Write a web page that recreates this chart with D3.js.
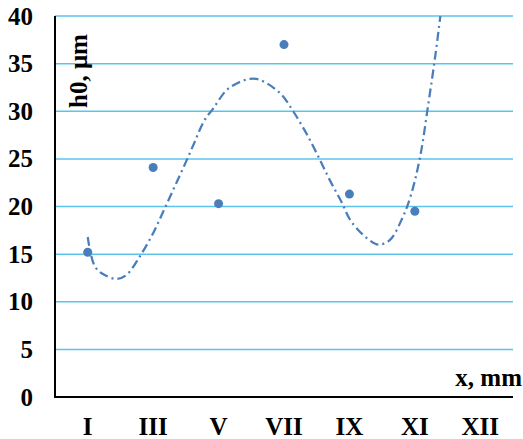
<!DOCTYPE html>
<html lang="en">
<head>
<script src="https://d3js.org/d3.v7.min.js"></script>
<style>
    body { margin: 0; background: #fff; }
    text { font-family: "Liberation Serif", "Times New Roman", serif; font-weight: bold; }
</style>
</head>
<body>
<div id="container"></div>
<script>
    // categories along x
    const categories = ["I", "III", "V", "VII", "IX", "XI", "XII"];

    // measured points (one per category, none at XII)
    const pointCats = ["I", "III", "V", "VII", "IX", "XI"];
    const pointValues = [15.2, 24.1, 20.3, 37.0, 21.3, 19.5];

    // trend line: position in category steps from "I", and value
    const trendPos = [0, 0.11, 0.26, 0.44, 0.59, 0.8, 1.0, 1.15, 1.31, 1.47, 1.63, 1.78, 1.92, 2.12, 2.3, 2.48, 2.63, 2.94, 3.14, 3.34, 3.52, 3.69, 3.87, 4.03, 4.3, 4.45, 4.62, 4.81, 4.94, 5.08, 5.2, 5.31, 5.39];
    const trendValues = [16.8, 13.7, 12.8, 12.4, 12.8, 14.8, 17.2, 19.4, 21.8, 24.2, 26.7, 29.0, 30.3, 32.2, 33.0, 33.4, 33.3, 31.9, 30.0, 27.7, 25.3, 22.9, 20.6, 18.4, 16.5, 16.0, 16.5, 18.8, 21.2, 25.2, 30.5, 35.7, 40];

    const yTicks = [0, 5, 10, 15, 20, 25, 30, 35, 40];

    const width = 523, height = 439;
    const margin = {top: 16, right: 10, bottom: 42, left: 55};
    const fontSize = "25px";

    const svg = d3.select("#container")
        .append("svg")
        .attr("width", width)
        .attr("height", height);

    // scales
    var x = d3.scaleBand()
        .domain(categories)
        .range([margin.left, width - margin.right])
        .padding(0);

    var y = d3.scaleLinear()
        .domain([0, 40])
        .range([height - margin.bottom, margin.top]);

    // trend positions use a linear scale across the band centres
    var xt = d3.scaleLinear()
        .domain([0, categories.length - 1])
        .range([x(categories[0]) + x.bandwidth() / 2,
                x(categories[categories.length - 1]) + x.bandwidth() / 2]);

    // gridlines
    svg.append("g")
        .selectAll("line")
        .data(yTicks.filter(d => d > 0))
        .join("line")
        .attr("x1", margin.left)
        .attr("x2", width - margin.right)
        .attr("y1", d => y(d))
        .attr("y2", d => y(d))
        .attr("stroke", "#5cc3ec")
        .attr("stroke-width", 1.5);

    // y axis labels
    var yAxis = svg.append("g")
        .attr("transform", "translate(" + (margin.left - 22) + ",0)")
        .call(d3.axisLeft(y).tickValues(yTicks).tickSize(0).tickPadding(0));
    yAxis.select(".domain").remove();
    yAxis.selectAll("text")
        .style("font-size", fontSize)
        .style("font-family", "Liberation Serif")
        .style("font-weight", "bold")
        .attr("fill", "#000");

    // x axis labels
    var xAxis = svg.append("g")
        .attr("transform", "translate(0," + (height - margin.bottom) + ")")
        .call(d3.axisBottom(x).tickSize(0).tickPadding(20));
    xAxis.select(".domain").remove();
    xAxis.selectAll("text")
        .style("font-size", fontSize)
        .style("font-family", "Liberation Serif")
        .style("font-weight", "bold")
        .attr("fill", "#000");

    // axis lines
    svg.append("line")
        .attr("x1", margin.left).attr("x2", margin.left)
        .attr("y1", y(40)).attr("y2", y(0) + 1)
        .attr("stroke", "#000").attr("stroke-width", 2);
    svg.append("line")
        .attr("x1", margin.left - 1).attr("x2", width - margin.right)
        .attr("y1", y(0)).attr("y2", y(0))
        .attr("stroke", "#000").attr("stroke-width", 2);

    // trend line (dash-dot)
    var line = d3.line()
        .x((d, i) => xt(trendPos[i]))
        .y(d => y(d))
        .curve(d3.curveCatmullRom);

    svg.append("path")
        .datum(trendValues)
        .attr("d", line)
        .attr("fill", "none")
        .attr("stroke", "#4a7ebb")
        .attr("stroke-width", 2.25)
        .attr("stroke-dasharray", "9,4,2,4");

    // points
    svg.append("g")
        .selectAll("circle")
        .data(pointValues)
        .join("circle")
        .attr("cx", (d, i) => x(pointCats[i]) + x.bandwidth() / 2)
        .attr("cy", d => y(d))
        .attr("r", 4.5)
        .attr("fill", "#4a7ebb");

    // axis titles
    svg.append("text")
        .attr("x", 522)
        .attr("y", 386)
        .attr("text-anchor", "end")
        .style("font-size", fontSize)
        .text("x, mm");

    svg.append("text")
        .attr("transform", "translate(87,108) rotate(-90)")
        .attr("text-anchor", "start")
        .style("font-size", fontSize)
        .text("h0, μm");
</script>
</body>
</html>
